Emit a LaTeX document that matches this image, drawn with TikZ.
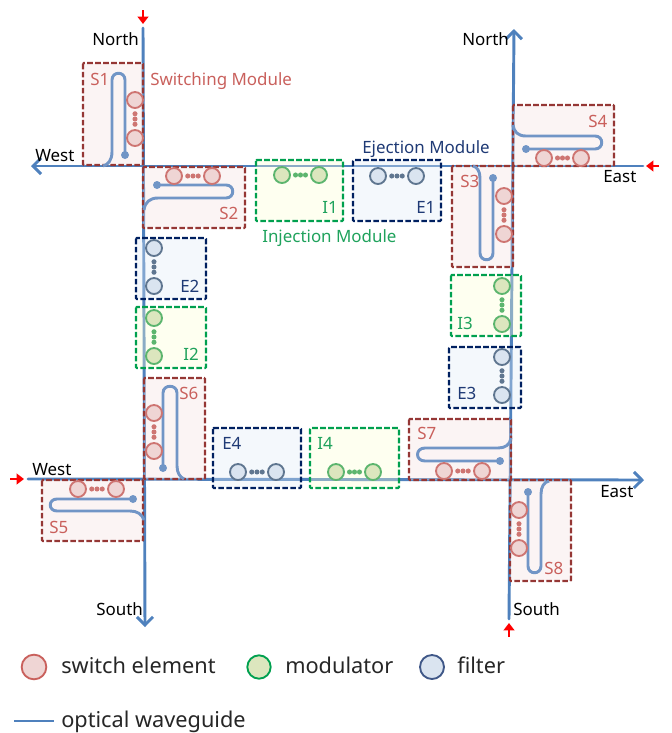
\documentclass[tikz,border=0pt]{standalone}
\usepackage{fontspec}
\setmainfont{Noto Sans}
\usetikzlibrary{arrows.meta}
\definecolor{wg}{HTML}{4F81BD}
\definecolor{wgl}{HTML}{7195C6}
\definecolor{sdash}{HTML}{953735}
\definecolor{idash}{HTML}{00A04F}
\definecolor{edash}{HTML}{002060}
\definecolor{stext}{HTML}{C9605C}
\definecolor{itext}{HTML}{1FA25C}
\definecolor{etext}{HTML}{1F3A75}
\definecolor{sfillc}{HTML}{F4E0E0}
\definecolor{ifillc}{HTML}{FCFFD4}
\definecolor{efillc}{HTML}{E0EBF6}
\definecolor{swf}{HTML}{EFD5D4}
\definecolor{modf}{HTML}{DCE6BE}
\definecolor{filf}{HTML}{DAE4F0}
\definecolor{swe}{HTML}{CE7572}
\definecolor{mode}{HTML}{5CB56E}
\definecolor{file}{HTML}{5F7690}
\tikzset{
  x=0.75pt,y=-0.75pt,
  wgmain/.style={draw=wg,line width=2.2pt,line cap=round},
  wgarrow/.style={wgmain,-{Straight Barb[length=6pt,width=12pt,line width=2.2pt]}},
  hairpin/.style={draw=wgl,line width=2.2pt},
  hdot/.style={circle,fill=wgl,inner sep=0pt,minimum size=6pt},
  redarrow/.style={draw=red,line width=1.6pt,-{Triangle[length=5.5pt,width=8pt]}},
  modbox/.style={rectangle,line width=1.6pt,dash pattern=on 4.2pt off 1.8pt,rounded corners=0.6pt,fill opacity=0.35,draw opacity=1},
  sbox/.style={modbox,draw=sdash,fill=sfillc},
  ibox/.style={modbox,draw=idash,fill=ifillc},
  ebox/.style={modbox,draw=edash,fill=efillc},
  ring/.style={circle,line width=1.4pt,minimum size=12pt,inner sep=0pt},
  swc/.style={ring,draw=swe,fill=swf},
  modc/.style={ring,draw=mode,fill=modf},
  filc/.style={ring,draw=file,fill=filf},
  sdot/.style={circle,fill=swe,inner sep=0pt,minimum size=3.8pt},
  idot/.style={circle,fill=mode,inner sep=0pt,minimum size=3.8pt},
  edot/.style={circle,fill=file,inner sep=0pt,minimum size=3.8pt},
  lab/.style={anchor=base west,inner sep=0pt,font=\fontsize{12.7}{15}\selectfont},
  slab/.style={lab,text=stext},
  ilab/.style={lab,text=itext},
  elab/.style={lab,text=etext},
  dirlab/.style={lab,text=black},
  leglab/.style={anchor=base west,inner sep=0pt,font=\fontsize{16.3}{19}\selectfont,text=black!85},
}
% name, circle style, dot style, x1,y1,x2,y2
\newcommand{\elems}[7]{%
  \node[#2] (#1a) at (#4,#5) {};
  \node[#2] (#1b) at (#6,#7) {};
  \path (#1a) -- (#1b)
    node[pos=0.24,#3] (#1p) {}
    node[pos=0.50,#3] (#1q) {}
    node[pos=0.76,#3] (#1r) {};
}
\begin{document}
\begin{tikzpicture}
\useasboundingbox (0,0) rectangle (672,733);
% main waveguides
\coordinate (Nin) at (143,28);
\coordinate (Sout) at (145,627);
\coordinate (Wout) at (31,166);
\coordinate (Ein) at (643,166);
\coordinate (Nout) at (514,29);
\coordinate (Sin) at (509,619);
\coordinate (Win) at (28,479);
\coordinate (Eout) at (644,480);
\draw[wgarrow] (Nin) -- (Sout);
\draw[wgarrow] (Ein) -- (Wout);
\draw[wgarrow] (Sin) -- (Nout);
\draw[wgarrow] (Win) -- (Eout);
% red input arrows
\coordinate (r1a) at (143,10); \coordinate (r1b) at (143,24);
\coordinate (r2a) at (659,166); \coordinate (r2b) at (646,166);
\coordinate (r3a) at (10,479); \coordinate (r3b) at (24,479);
\coordinate (r4a) at (509,637); \coordinate (r4b) at (509,623);
\draw[redarrow] (r1a) -- (r1b);
\draw[redarrow] (r2a) -- (r2b);
\draw[redarrow] (r3a) -- (r3b);
\draw[redarrow] (r4a) -- (r4b);
% module boxes
\draw[sbox] (83,63) rectangle (143,165);
\draw[sbox] (143,167) rectangle (245,228);
\draw[sbox] (452,166) rectangle (513,267);
\draw[sbox] (513,105) rectangle (614,166);
\draw[sbox] (42,480) rectangle (143,541);
\draw[sbox] (144,378) rectangle (205,479);
\draw[sbox] (409,419) rectangle (511,480);
\draw[sbox] (510,480) rectangle (571,581);
\draw[ibox] (256,160) rectangle (343,221);
\draw[ibox] (136,307) rectangle (206,368);
\draw[ibox] (451,275) rectangle (521,336);
\draw[ibox] (310,428) rectangle (399,488);
\draw[ebox] (353,160) rectangle (441,221);
\draw[ebox] (136,238) rectangle (206,299);
\draw[ebox] (449,347) rectangle (521,408);
\draw[ebox] (213,428) rectangle (301,488);
% hairpin waveguides
\node[hdot] (h1) at (125,155) {};
\draw[hairpin] (h1.center) -- (125,80) .. controls (125,71) and (112,71) .. (112,80) -- (112,152) .. controls (112,160) and (108,165) .. (103,166);
\node[hdot] (h2) at (157,185) {};
\draw[hairpin] (h2.center) -- (226,185) .. controls (235,185) and (235,198) .. (226,198) -- (158,198) .. controls (150,198) and (145,202) .. (144,210);
\node[hdot] (h3) at (493,178) {};
\draw[hairpin] (h3.center) -- (493,253) .. controls (493,262) and (480,262) .. (480,253) -- (480,178) .. controls (480,171) and (477,167) .. (473,166);
\node[hdot] (h4) at (526,149) {};
\draw[hairpin] (h4.center) -- (595,149) .. controls (604,149) and (604,136) .. (595,136) -- (526,136) .. controls (518,136) and (514,132) .. (513,125);
\node[hdot] (h5) at (133,499) {};
\draw[hairpin] (h5.center) -- (57,499) .. controls (48,499) and (48,511) .. (57,511) -- (130,511) .. controls (137,511) and (142,514) .. (144,520);
\node[hdot] (h6) at (163,468) {};
\draw[hairpin] (h6.center) -- (163,393) .. controls (163,384) and (177,384) .. (177,393) -- (177,466) .. controls (177,473) and (180,477) .. (184,479);
\node[hdot] (h7) at (500,461) {};
\draw[hairpin] (h7.center) -- (425,461) .. controls (415,461) and (415,448) .. (425,448) -- (498,448) .. controls (505,448) and (510,445) .. (511,438);
\node[hdot] (h8) at (528,492) {};
\draw[hairpin] (h8.center) -- (528,566) .. controls (528,575) and (541,575) .. (541,566) -- (541,494) .. controls (541,487) and (544,482) .. (549,481);
% ring elements
\elems{s1}{swc}{sdot}{135}{100}{135}{138}
\elems{s2}{swc}{sdot}{174}{176}{212}{176}
\elems{s3}{swc}{sdot}{504}{196}{504}{234}
\elems{s4}{swc}{sdot}{544}{158}{581}{158}
\elems{s5}{swc}{sdot}{78}{489}{116}{489}
\elems{s6}{swc}{sdot}{154}{413}{154}{451}
\elems{s7}{swc}{sdot}{444}{471}{482}{471}
\elems{s8}{swc}{sdot}{519}{510}{519}{548}
\elems{i1}{modc}{idot}{282}{175}{319}{175}
\elems{i2}{modc}{idot}{154}{318}{154}{356}
\elems{i3}{modc}{idot}{502}{286}{502}{324}
\elems{i4}{modc}{idot}{336}{472}{373}{472}
\elems{e1}{filc}{edot}{378}{176}{416}{176}
\elems{e2}{filc}{edot}{154}{248}{154}{286}
\elems{e3}{filc}{edot}{502}{357}{502}{395}
\elems{e4}{filc}{edot}{238}{472}{276}{472}
% labels
\node[dirlab] (tN1) at (92,45) {North};
\node[dirlab] (tN2) at (462,45) {North};
\node[dirlab] (tW1) at (35,161) {West};
\node[dirlab] (tW2) at (32,475) {West};
\node[dirlab] (tE1) at (603,182) {East};
\node[dirlab] (tE2) at (600,497) {East};
\node[dirlab] (tS1) at (96,615) {South};
\node[dirlab] (tS2) at (513,615) {South};
\node[slab] (tSM) at (150,85) {Switching Module};
\node[ilab] (tIM) at (262,242) {Injection Module};
\node[elab] (tEM) at (362,153) {Ejection Module};
\node[slab] (tS1m) at (90,85) {S1};
\node[slab] (tS2m) at (219,219) {S2};
\node[slab] (tS3m) at (460,187) {S3};
\node[slab] (tS4m) at (588,127) {S4};
\node[slab] (tS5m) at (49,533) {S5};
\node[slab] (tS6m) at (179,399) {S6};
\node[slab] (tS7m) at (417,439) {S7};
\node[slab] (tS8m) at (544,574) {S8};
\node[ilab] (tI1m) at (322,213) {I1};
\node[ilab] (tI2m) at (183,360) {I2};
\node[ilab] (tI3m) at (457,329) {I3};
\node[ilab] (tI4m) at (317,449) {I4};
\node[elab] (tE1m) at (416,213) {E1};
\node[elab] (tE2m) at (180,292) {E2};
\node[elab] (tE3m) at (457,399) {E3};
\node[elab] (tE4m) at (222,449) {E4};
% legend
\node[circle,draw=stext,fill=swf,line width=1.4pt,minimum size=18.5pt,inner sep=0pt] (lgs) at (34,667) {};
\node[leglab] (lgst) at (61,673) {switch element};
\node[circle,draw=idash,fill=modf,line width=1.4pt,minimum size=17.5pt,inner sep=0pt] (lgm) at (259,667) {};
\node[leglab] (lgmt) at (285,673) {modulator};
\node[circle,draw=edash!75!white,fill=filf,line width=1.4pt,minimum size=18pt,inner sep=0pt] (lgf) at (432,667) {};
\node[leglab] (lgft) at (457,673) {filter};
\coordinate (lgwa) at (14,721); \coordinate (lgwb) at (54,721);
\draw[draw=wg,line width=2.2pt] (lgwa) -- (lgwb);
\node[leglab] (lgwt) at (61,727) {optical waveguide};
\end{tikzpicture}
\end{document}
